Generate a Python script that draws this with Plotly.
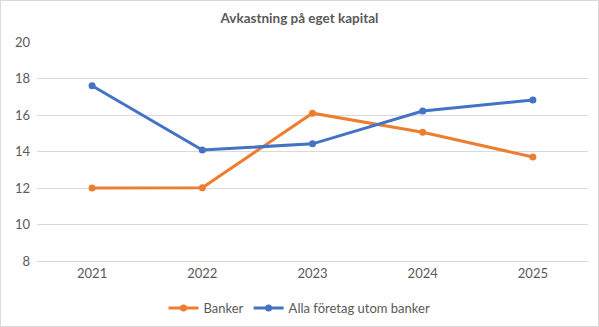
import plotly.graph_objects as go

years = ["2021", "2022", "2023", "2024", "2025"]
banker = [12.0, 12.02, 16.1, 15.05, 13.7]
alla = [17.6, 14.08, 14.42, 16.22, 16.82]

FONT = "Lato, 'Open Sans', sans-serif"
GRAY = "#595959"

fig = go.Figure()
fig.add_trace(go.Scatter(x=years, y=banker, name="Banker", mode="lines+markers",
                         line=dict(color="#ED7D31", width=3),
                         marker=dict(size=7, color="#ED7D31")))
fig.add_trace(go.Scatter(x=years, y=alla, name="Alla företag utom banker", mode="lines+markers",
                         line=dict(color="#4472C4", width=3),
                         marker=dict(size=7, color="#4472C4")))

fig.update_layout(
    width=599, height=327,
    margin=dict(l=37, r=11, t=42, b=66),
    paper_bgcolor="white", plot_bgcolor="white",
    font=dict(family=FONT, size=13, color=GRAY),
    title=dict(text="<b>Avkastning på eget kapital</b>", x=0.5, xref="container", xanchor="center",
               y=1 - 18 / 327, yref="container", yanchor="middle",
               font=dict(family=FONT, size=13.5, color=GRAY)),
    xaxis=dict(type="category", range=[-0.5, 4.5], showgrid=False, showline=True,
               linecolor="#D9D9D9", linewidth=1,
               ticks="", tickfont=dict(size=13, color=GRAY), zeroline=False),
    yaxis=dict(range=[8, 20], dtick=2, showgrid=True, gridcolor="#D9D9D9", gridwidth=1,
               zeroline=False, showline=False, ticks="", tickfont=dict(size=13, color=GRAY),
               ticklabelstandoff=6),
    legend=dict(orientation="h", xref="container", x=0.5, xanchor="center",
                yref="container", y=1 - 308 / 327, yanchor="middle",
                font=dict(size=13, color=GRAY), itemwidth=30, tracegroupgap=0),
    showlegend=True,
)
fig.add_shape(type="rect", xref="paper", yref="paper",
              x0=-36.5 / 551, x1=(598.5 - 37) / 551, y0=(261 - 326.5) / 219, y1=(261 - 0.5) / 219,
              line=dict(color="#D9D9D9", width=1), fillcolor="rgba(0,0,0,0)", layer="below")

fig.write_html("out.html")
